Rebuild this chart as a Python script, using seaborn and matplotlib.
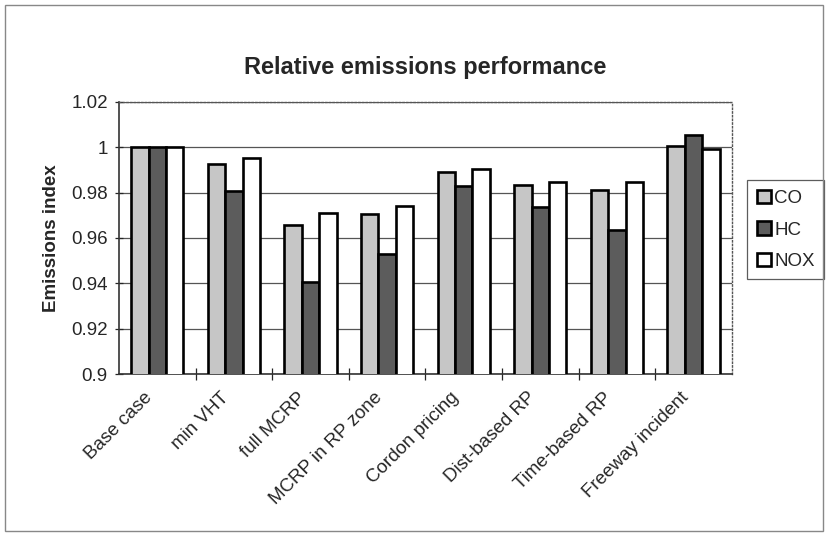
import pandas as pd
import numpy as np
import matplotlib
matplotlib.use('Agg')
import matplotlib.pyplot as plt
import seaborn as sns
from matplotlib.patches import Rectangle

# Data
scenarios = ['Base case', 'min VHT', 'full MCRP', 'MCRP in RP zone',
             'Cordon pricing', 'Dist-based RP', 'Time-based RP', 'Freeway incident']
co = [1.000, 0.9927, 0.9656, 0.9706, 0.9890, 0.9832, 0.9810, 1.0007]
hc = [1.000, 0.9806, 0.9404, 0.9529, 0.9831, 0.9735, 0.9637, 1.0055]
nox = [1.000, 0.9953, 0.9712, 0.9741, 0.9904, 0.9848, 0.9847, 0.9990]
series = ['CO', 'HC', 'NOX']
colors = ['#c6c6c6', '#5c5c5c', '#ffffff']

df = pd.DataFrame({'Scenario': scenarios * 3,
                   'Pollutant': [s for s in series for _ in scenarios],
                   'Index': co + hc + nox})

sns.set_style('white')
plt.rcParams['font.family'] = ['Liberation Sans', 'DejaVu Sans']

fig = plt.figure(figsize=(8.26, 5.36), dpi=100)
ax = fig.add_axes([0.144, 0.302, 0.742, 0.508])

sns.barplot(data=df, x='Scenario', y='Index', hue='Pollutant', order=scenarios,
            hue_order=series, palette=colors, width=0.68, edgecolor='black',
            linewidth=1.9, ax=ax, zorder=3)

ax.set_ylim(0.9, 1.02)
ax.set_yticks(np.arange(0.9, 1.021, 0.02))
ax.set_yticklabels(['0.9', '0.92', '0.94', '0.96', '0.98', '1', '1.02'], fontsize=13.5)
ax.yaxis.grid(True, color='#555555', linewidth=0.9, zorder=0)
ax.set_axisbelow(True)
ax.set_xlim(-0.5, len(scenarios) - 0.5)

# label anchors sit a bit left of the group centres, like the original
ax.set_xticks(np.arange(len(scenarios)) - 0.1)
ax.set_xticklabels(scenarios, rotation=45, ha='right', va='center',
                   rotation_mode='anchor', fontsize=13.5)
ax.set_xticks(np.arange(0.5, len(scenarios) - 0.5, 1), minor=True)
ax.tick_params(axis='x', which='major', length=0, pad=15)
ax.tick_params(axis='x', which='minor', length=8, direction='inout', width=0.9, bottom=True)
ax.tick_params(axis='y', length=6, direction='inout', width=0.9, left=True, pad=5)

ax.set_xlabel('')
ax.set_ylabel('Emissions index', fontsize=13.5, fontweight='bold', labelpad=8)
ax.set_title('Relative emissions performance', fontsize=17, fontweight='bold', pad=20)

for side in ['left', 'bottom']:
    ax.spines[side].set_color('#333333')
    ax.spines[side].set_linewidth(1.2)
for side in ['top', 'right']:
    ax.spines[side].set_visible(True)
    ax.spines[side].set_color('#555555')
    ax.spines[side].set_linestyle(':')
    ax.spines[side].set_linewidth(1.0)

leg = ax.legend(loc='center left', bbox_to_anchor=(1.025, 0.53), frameon=True,
                fontsize=13.5, handlelength=0.75, handleheight=0.75, handletextpad=0.2,
                borderpad=0.5, labelspacing=0.75, fancybox=False, borderaxespad=0)
leg.get_frame().set_edgecolor('#333333')
leg.get_frame().set_linewidth(0.9)

fig.patches.append(Rectangle((0.006, 0.01), 0.99, 0.98, transform=fig.transFigure,
                             fill=False, edgecolor='#888888', linewidth=1.0))

fig.savefig('out.png', dpi=100)
